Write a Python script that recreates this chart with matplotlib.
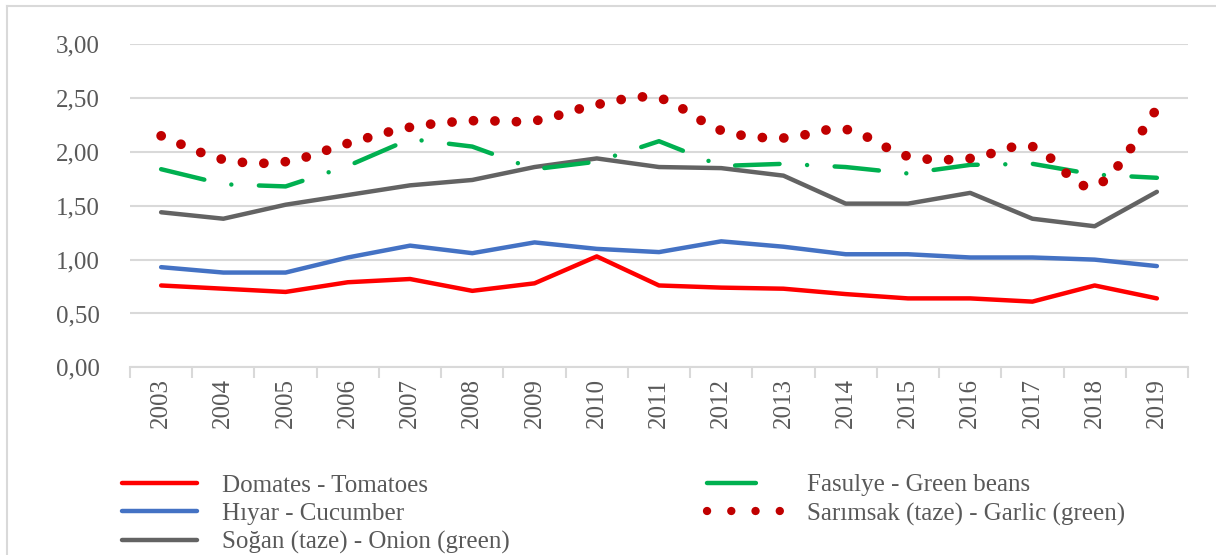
import numpy as np
import matplotlib
matplotlib.use('Agg')
import matplotlib.pyplot as plt
from matplotlib.path import Path
from matplotlib.patches import PathPatch
from matplotlib.lines import Line2D

plt.rcParams['font.family'] = 'Liberation Serif'

# Data
years = ['2003', '2004', '2005', '2006', '2007', '2008', '2009', '2010', '2011',
         '2012', '2013', '2014', '2015', '2016', '2017', '2018', '2019']
tomatoes = [0.76, 0.73, 0.70, 0.79, 0.82, 0.71, 0.78, 1.03, 0.76, 0.74, 0.73,
            0.68, 0.64, 0.64, 0.61, 0.76, 0.64]
cucumber = [0.93, 0.88, 0.88, 1.02, 1.13, 1.06, 1.16, 1.10, 1.07, 1.17, 1.12,
            1.05, 1.05, 1.02, 1.02, 1.00, 0.94]
onion = [1.44, 1.38, 1.51, 1.60, 1.69, 1.74, 1.86, 1.94, 1.86, 1.85, 1.78,
         1.52, 1.52, 1.62, 1.38, 1.31, 1.63]
green_beans = [1.84, 1.70, 1.68, 1.87, 2.12, 2.05, 1.84, 1.91, 2.10, 1.87, 1.89,
               1.86, 1.80, 1.88, 1.89, 1.79, 1.76]
garlic = [2.15, 1.93, 1.91, 2.08, 2.23, 2.29, 2.29, 2.44, 2.50, 2.20, 2.13,
          2.21, 1.96, 1.94, 2.05, 1.68, 2.40]
y_ticks = [0.0, 0.5, 1.0, 1.5, 2.0, 2.5, 3.0]

labels = ['Domates - Tomatoes', 'Hıyar - Cucumber', 'Soğan (taze) - Onion (green)',
          'Fasulye - Green beans', 'Sarımsak (taze) - Garlic (green)']

c_tom = '#FF0000'
c_cuc = '#4472C4'
c_oni = '#636363'
c_bea = '#00B050'
c_gar = '#C00000'
grid_c = '#D9D9D9'
text_c = '#595959'

W, H = 1216, 555
fig = plt.figure(figsize=(W / 100, H / 100), dpi=100)
ax = fig.add_axes([130 / W, 1 - 367.3 / H, 1058 / W, 323 / H])

x = np.arange(len(years))
lw = 3.2
ax.plot(x, tomatoes, color=c_tom, lw=lw, solid_joinstyle='round', solid_capstyle='round', zorder=3)
ax.plot(x, cucumber, color=c_cuc, lw=lw, solid_joinstyle='round', solid_capstyle='round', zorder=3)
ax.plot(x, onion, color=c_oni, lw=lw, solid_joinstyle='round', solid_capstyle='round', zorder=3)
ax.plot(x, green_beans, color=c_bea, lw=lw, linestyle=(0, (10.0, 6.2, 0.01, 6.2)),
        dash_capstyle='round', dash_joinstyle='round', zorder=3)

# smoothed garlic curve (Catmull-Rom through the points, drawn as cubic Beziers)
pts = np.column_stack([x, garlic]).astype(float)
ext = np.vstack([pts[0], pts, pts[-1]])
verts = [tuple(pts[0])]
codes = [Path.MOVETO]
for i in range(len(pts) - 1):
    p0, p1, p2, p3 = ext[i], ext[i + 1], ext[i + 2], ext[i + 3]
    c1 = p1 + (p2 - p0) / 6
    c2 = p2 - (p3 - p1) / 6
    verts += [tuple(c1), tuple(c2), tuple(p2)]
    codes += [Path.CURVE4] * 3
gar_patch = PathPatch(Path(verts, codes), fill=False, edgecolor=c_gar, lw=7.0,
                      linestyle=(0, (0.01, 2.2)), capstyle='round', zorder=4)
ax.add_patch(gar_patch)

ax.set_xlim(-0.5, len(years) - 0.5)
ax.set_ylim(0, 3)
ax.set_yticks(y_ticks)
ax.set_yticklabels([f'{v:.2f}'.replace('.', ',') for v in y_ticks],
                   fontsize=18, color=text_c, family='Liberation Serif')
ax.set_xticks(x)
ax.set_xticklabels(years, rotation=90, fontsize=18, color=text_c, family='Liberation Serif')
ax.set_xticks(np.arange(-0.5, len(years)), minor=True)
ax.tick_params(axis='x', which='major', length=0, pad=8)
ax.tick_params(axis='x', which='minor', length=8, width=1.5, color=grid_c, direction='out')
ax.tick_params(axis='y', length=0, pad=22)
ax.yaxis.grid(True, color=grid_c, lw=1.5)
ax.set_axisbelow(True)
for s in ['top', 'right', 'left']:
    ax.spines[s].set_visible(False)
ax.spines['bottom'].set_color(grid_c)
ax.spines['bottom'].set_linewidth(1.5)

# chart area border
fig.add_artist(Line2D([7 / W, 7 / W], [0, 1 - 6 / H], transform=fig.transFigure, color=grid_c, lw=1.5))
fig.add_artist(Line2D([7 / W, 1], [1 - 6 / H, 1 - 6 / H], transform=fig.transFigure, color=grid_c, lw=1.5))

handles = [
    Line2D([], [], color=c_tom, lw=lw, solid_capstyle='round'),
    Line2D([], [], color=c_cuc, lw=lw, solid_capstyle='round'),
    Line2D([], [], color=c_oni, lw=lw, solid_capstyle='round'),
    Line2D([], [], color=c_bea, lw=lw, linestyle=(0, (11.0, 20.0)), dash_capstyle='round'),
    Line2D([], [], color=c_gar, lw=6.0, linestyle=(0, (0.01, 2.9)), dash_capstyle='round'),
]
leg = fig.legend(handles, labels, ncol=2, loc='upper left',
                 bbox_to_anchor=(122 / W, 1 - 474 / H), frameon=False,
                 prop={'family': 'Liberation Serif', 'size': 18}, handlelength=3.0, handletextpad=1.0,
                 columnspacing=7.9, labelspacing=0.24, borderpad=0, borderaxespad=0)
for t in leg.get_texts():
    t.set_color(text_c)

fig.savefig('out.png', dpi=100)
